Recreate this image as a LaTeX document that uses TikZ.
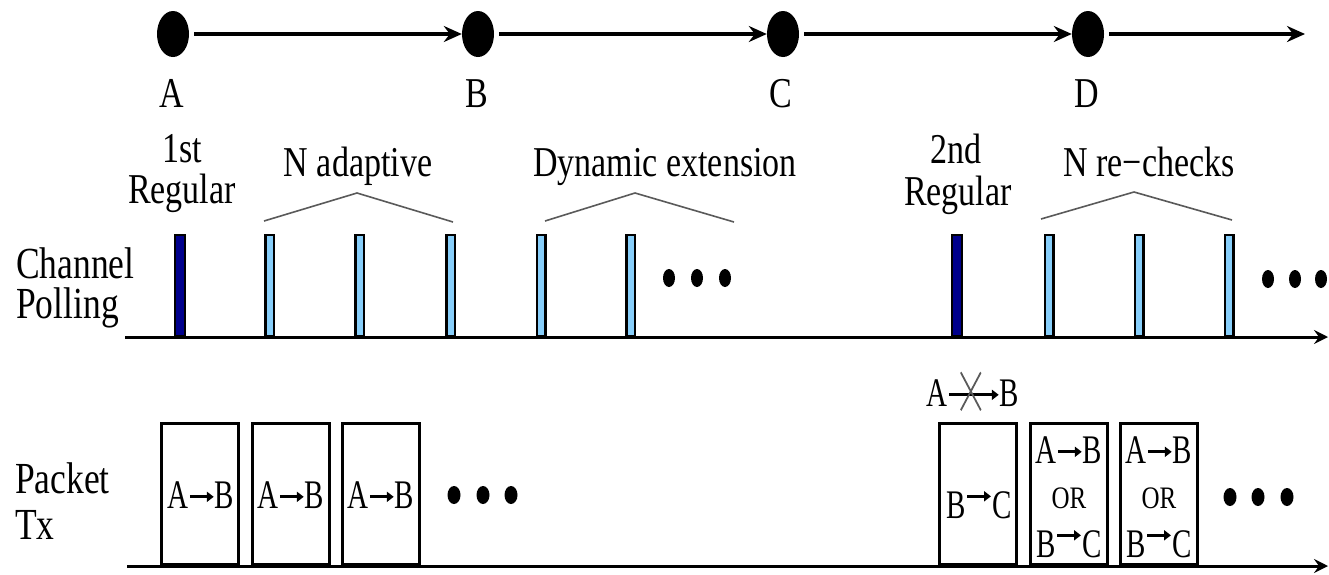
\documentclass[tikz,border=0pt]{standalone}
\usepackage{fontspec}
\setmainfont{Liberation Serif}
\usetikzlibrary{shapes.geometric,arrows.meta}

\definecolor{navybar}{RGB}{0,0,140}
\definecolor{skybar}{RGB}{135,206,250}
\definecolor{caretgray}{RGB}{90,90,90}

\newcommand{\harr}{\tikz[baseline=0pt]\draw[line width=2pt,-{Triangle[length=7pt,width=7pt]}] (0pt,8pt)--(24pt,8pt);}
\newcommand{\uarr}{\tikz[baseline=0pt]\draw[line width=2pt,-{Triangle[length=7pt,width=7pt]}] (0pt,15.5pt)--(24pt,15.5pt);}
\newcommand{\xarr}{\tikz[baseline=0pt]{\draw[line width=2pt,-{Triangle[length=7pt,width=7pt]}] (0pt,8pt)--(50pt,8pt); \draw[line width=1.6pt,caretgray] (12pt,-3pt)--(32pt,24pt) (12pt,24pt)--(32pt,-3pt);}}

\tikzset{
 lbl/.style={font=\rmfamily\fontsize{34}{34}\selectfont, yscale=1.25, inner sep=0pt, anchor=base},
 lblL/.style={lbl, font=\rmfamily\fontsize{35.5}{35.5}\selectfont, anchor=base west},
 btxt/.style={font=\rmfamily\fontsize{29}{29}\selectfont, yscale=1.4, inner sep=0pt, anchor=base},
 ortxt/.style={font=\rmfamily\fontsize{25}{25}\selectfont, yscale=1.25, inner sep=0pt, anchor=base},
 tdot/.style={ellipse, fill=black, minimum width=32pt, minimum height=46pt, inner sep=0pt},
 sdot/.style={ellipse, fill=black, minimum width=12pt, minimum height=18pt, inner sep=0pt},
 tline/.style={line width=4pt, shorten <=5pt, -{Stealth[length=18pt,width=16pt,inset=6pt]}},
 axisline/.style={line width=3pt, -{Stealth[length=14pt,width=14pt,inset=5pt]}},
 caret/.style={line width=1.6pt, caretgray},
 darkbar/.style={rectangle, draw=black, line width=2.5pt, fill=navybar, minimum width=10pt, minimum height=101pt, inner sep=0pt, anchor=south},
 lightbar/.style={darkbar, fill=skybar, minimum width=8.5pt},
 pkt/.style={rectangle, draw=black, line width=3pt, minimum width=77pt, minimum height=141.5pt, inner sep=0pt, anchor=south},
}

\begin{document}
\begin{tikzpicture}[x=1pt,y=-1pt]
\useasboundingbox (0,0) rectangle (1329,574);
\fill[white] (0,0) rectangle (1329,574);

% timeline
\node[tdot] (A) at (173,34) {};
\node[tdot] (B) at (478,34) {};
\node[tdot] (C) at (783,34) {};
\node[tdot] (D) at (1088,34) {};
\coordinate (tend) at (1305,34);
\draw[tline] (A) -- (B);
\draw[tline] (B) -- (C);
\draw[tline] (C) -- (D);
\draw[tline] (D) -- (tend);
\node[lbl] (lA) at (172,107) {A};
\node[lbl] (lB) at (477,107) {B};
\node[lbl] (lC) at (781,107) {C};
\node[lbl] (lD) at (1087,107) {D};

% headings
\node[lbl] (r1a) at (182,162) {1st};
\node[lbl] (r1b) at (182,203) {Regular};
\node[lbl] (nad) at (358,176) {N adaptive};
\node[lbl] (dyn) at (665,176) {Dynamic extension};
\node[lbl] (r2a) at (956,163) {2nd};
\node[lbl] (r2b) at (958,205) {Regular};
\node[lbl] (nre) at (1149,176) {N re−checks};

\draw[caret] (264,221) -- (357,193) -- (453,222);
\draw[caret] (545,221) -- (635,193) -- (734,222);
\draw[caret] (1041,219) -- (1134,192) -- (1232,220);

% left labels
\node[lblL] (ch1) at (16,278) {Channel};
\node[lblL] (ch2) at (16,318) {Polling};
\node[lblL] (pk1) at (15,493) {Packet};
\node[lblL] (pk2) at (15,539) {Tx};

% polling axis
\coordinate (pa0) at (125,337);
\coordinate (pa1) at (1328,337);
\node[darkbar] (p1) at (180,337) {};
\node[lightbar] (p2) at (269.5,337) {};
\node[lightbar] (p3) at (359.5,337) {};
\node[lightbar] (p4) at (450.5,337) {};
\node[lightbar] (p5) at (541,337) {};
\node[lightbar] (p6) at (630.5,337) {};
\node[darkbar] (p7) at (957,337) {};
\node[lightbar] (p8) at (1049,337) {};
\node[lightbar] (p9) at (1139,337) {};
\node[lightbar] (p10) at (1229,337) {};
\draw[axisline] (pa0) -- (pa1);

\node[sdot] (d1) at (669,278) {};
\node[sdot] (d2) at (697,278) {};
\node[sdot] (d3) at (725,278) {};
\node[sdot] (d4) at (1268,279) {};
\node[sdot] (d5) at (1295,279) {};
\node[sdot] (d6) at (1321,279) {};

% packet axis
\coordinate (ka0) at (127,566);
\coordinate (ka1) at (1328,566);
\node[pkt] (b1) at (200,566) {};
\node[pkt] (b2) at (291,566) {};
\node[pkt] (b3) at (381,566) {};
\node[pkt] (b4) at (978,566) {};
\node[pkt] (b5) at (1069,566) {};
\node[pkt] (b6) at (1159,566) {};
\draw[axisline] (ka0) -- (ka1);

\node[btxt] (t1) at (201,508) {A\harr B};
\node[btxt] (t2) at (291,508) {A\harr B};
\node[btxt] (t3) at (381,508) {A\harr B};
\node[btxt] (t4) at (979,518) {B\uarr C};
\node[btxt] (t5a) at (1069,463) {A\harr B};
\node[ortxt] (t5b) at (1069,508) {OR};
\node[btxt] (t5c) at (1069,557) {B\uarr C};
\node[btxt] (t6a) at (1159,463) {A\harr B};
\node[ortxt] (t6b) at (1159,508) {OR};
\node[btxt] (t6c) at (1159,557) {B\uarr C};
\node[btxt] (tx) at (973,406) {A\xarr B};

\node[sdot, minimum width=13pt] (e1) at (454,495) {};
\node[sdot, minimum width=13pt] (e2) at (483,495) {};
\node[sdot, minimum width=13pt] (e3) at (511,495) {};
\node[sdot, minimum width=13pt] (e4) at (1230,497) {};
\node[sdot, minimum width=13pt] (e5) at (1258,497) {};
\node[sdot, minimum width=13pt] (e6) at (1287,497) {};
\end{tikzpicture}
\end{document}
